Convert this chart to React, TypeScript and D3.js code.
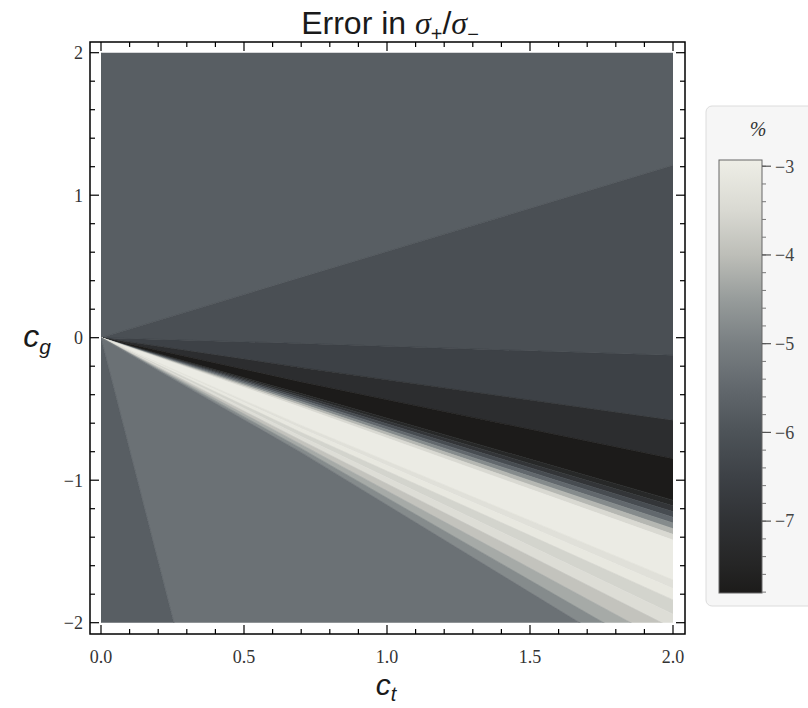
import React from "react";
import * as d3 from "d3";

// ---- axes -------------------------------------------------------------
const ctTicks = [0, 0.5, 1.0, 1.5, 2.0];
const cgTicks = [-2, -1, 0, 1, 2];
const legendTicks = [-3, -4, -5, -6, -7];
const legendRange = [-7.81, -2.93];

// ---- colour scheme (value in %, colour) ----------------------------------
const schemeValues = [-7.81, -7.5, -7.0, -6.5, -6.0, -5.5, -5.0, -4.5, -4.0, -3.5, -2.93];
const schemeColors = [
  "#1c1b1a", "#252525", "#303235", "#3d4146", "#4d5358", "#62686d",
  "#797f82", "#979c9b", "#bdbeb8", "#d9d9d2", "#eeeee6",
];

// ---- contour bands, from the top (c_g > 0) round to the bottom ------------
const bandValues = [
  -5.75, -6.1, -6.5, -7.2, -7.8,
  -7.4, -6.9, -6.2, -5.5, -4.8, -4.1, -3.5,
  -3.0,
  -3.3, -3.1, -3.6, -3.4, -3.9, -4.3, -4.8,
  -5.3, -5.75,
];
// slope c_g / c_t of the boundary under each band, near the origin and at c_t = 2
const boundarySlopeNear = [
  0.605, -0.058, -0.3, -0.445, -0.56,
  -0.58, -0.6, -0.62, -0.64, -0.66, -0.68, -0.7,
  -0.88,
  -0.91, -0.95, -0.99, -1.03, -1.07, -1.11, -1.15,
  -7.85,
];
const boundarySlopeFar = [
  0.605, -0.062, -0.29, -0.425, -0.57,
  -0.59, -0.61, -0.63, -0.65, -0.67, -0.69, -0.71,
  -0.85,
  -0.88, -0.92, -0.97, -1.02, -1.08, -1.14, -1.2,
  -7.85,
];
const slopeNearCt = 0.7;

export default function App() {
  const W = 808, H = 708;
  const x = d3.scaleLinear().domain([0, 2]).range([101, 673]);
  const y = d3.scaleLinear().domain([-2, 2]).range([622.7, 52.7]);
  const color = d3
    .scaleLinear<string>()
    .domain(schemeValues)
    .range(schemeColors)
    .interpolate(d3.interpolateRgb)
    .clamp(true);
  const ly = d3.scaleLinear().domain(legendRange).range([593, 160]);

  const frame = { l: 90, r: 685, t: 42, b: 634 };

  const boundary = (i: number): [number, number][] => {
    if (i < 0) return [[0, 0], [0, 3], [2.3, 3]];
    if (i >= boundarySlopeNear.length) return [[0, 0], [0, -30], [2.3, -30]];
    const n = boundarySlopeNear[i], f = boundarySlopeFar[i];
    return [[0, 0], [slopeNearCt, n * slopeNearCt], [2, f * 2], [2.3, f * 2.3]];
  };
  const line = d3
    .line<[number, number]>()
    .x((d) => x(d[0]))
    .y((d) => y(d[1]));

  const bands = bandValues.map((v, k) => {
    const upper = boundary(k - 1);
    const lower = boundary(k).slice().reverse();
    return { v, d: line(upper.concat(lower)) + "Z" };
  });

  const xMinor = x.ticks(20);
  const yMinor = y.ticks(20);
  const lMinor = d3.range(-7.8, -2.95, 0.2);
  const MAJ = 9, MIN = 5;

  const tickFont = "'Liberation Serif', 'DejaVu Serif', serif";
  const sansFont = "'Liberation Sans', Arial, sans-serif";

  return (
    <svg width={W} height={H} style={{ position: "absolute", left: 0, top: 0 }}>
      <rect width={W} height={H} fill="#ffffff" />
      <defs>
        <clipPath id="plotClip">
          <rect x={x(0)} y={y(2)} width={x(2) - x(0)} height={y(-2) - y(2)} />
        </clipPath>
        <linearGradient id="legendGrad" x1="0" y1="1" x2="0" y2="0">
          {schemeValues.map((v, i) => (
            <stop
              key={i}
              offset={(v - legendRange[0]) / (legendRange[1] - legendRange[0])}
              stopColor={schemeColors[i]}
            />
          ))}
        </linearGradient>
      </defs>

      {/* title */}
      <text x={390} y={34} textAnchor="middle" fontSize={32} fill="#1a1a1a" fontFamily={sansFont}>
        Error in{" "}
        <tspan fontFamily={tickFont} fontStyle="italic">σ</tspan>
        <tspan fontSize={20} dy={7}>+</tspan>
        <tspan dy={-7}>/</tspan>
        <tspan fontFamily={tickFont} fontStyle="italic">σ</tspan>
        <tspan fontSize={20} dy={7}>−</tspan>
      </text>

      {/* contour field */}
      <g clipPath="url(#plotClip)">
        {bands.map((b, i) => (
          <path key={i} d={b.d} fill={color(b.v)} stroke={color(b.v)} strokeWidth={0.6} />
        ))}
      </g>

      {/* frame */}
      <rect
        x={frame.l}
        y={frame.t}
        width={frame.r - frame.l}
        height={frame.b - frame.t}
        fill="none"
        stroke="#000"
        strokeWidth={1.5}
      />
      {xMinor.map((t, i) => {
        const major = ctTicks.some((m) => Math.abs(m - t) < 1e-9);
        const len = major ? MAJ : MIN;
        return (
          <g key={"x" + i} stroke="#000" strokeWidth={1.2}>
            <line x1={x(t)} x2={x(t)} y1={frame.b} y2={frame.b - len} />
            <line x1={x(t)} x2={x(t)} y1={frame.t} y2={frame.t + len} />
          </g>
        );
      })}
      {yMinor.map((t, i) => {
        const major = cgTicks.some((m) => Math.abs(m - t) < 1e-9);
        const len = major ? MAJ : MIN;
        return (
          <g key={"y" + i} stroke="#000" strokeWidth={1.2}>
            <line y1={y(t)} y2={y(t)} x1={frame.l} x2={frame.l + len} />
            <line y1={y(t)} y2={y(t)} x1={frame.r} x2={frame.r - len} />
          </g>
        );
      })}
      {ctTicks.map((t) => (
        <text key={"xl" + t} x={x(t)} y={663} textAnchor="middle" fontSize={18} fill="#333" fontFamily={tickFont}>
          {d3.format(".1f")(t)}
        </text>
      ))}
      {cgTicks.map((t) => (
        <text
          key={"yl" + t}
          x={83}
          y={y(t)}
          dy="0.35em"
          textAnchor="end"
          fontSize={18}
          fill="#333"
          fontFamily={tickFont}
        >
          {t < 0 ? "−" + Math.abs(t) : String(t)}
        </text>
      ))}

      {/* axis labels */}
      <text x={386} y={695} textAnchor="middle" fontSize={30} fill="#1a1a1a" fontFamily={sansFont} fontStyle="italic">
        c<tspan fontSize={20} dy={6}>t</tspan>
      </text>
      <text x={37} y={347} textAnchor="middle" fontSize={32} fill="#1a1a1a" fontFamily={sansFont} fontStyle="italic">
        c<tspan fontSize={21} dy={7}>g</tspan>
      </text>

      {/* colour legend */}
      <rect x={706} y={106} width={120} height={500} rx={6} fill="#f6f6f6" stroke="#dcdcdc" strokeWidth={1} />
      <text x={758} y={136} textAnchor="middle" fontSize={20} fill="#333" fontFamily={tickFont} fontStyle="italic">
        %
      </text>
      <rect
        x={719}
        y={ly(legendRange[1])}
        width={43}
        height={ly(legendRange[0]) - ly(legendRange[1])}
        fill="url(#legendGrad)"
        stroke="#666"
        strokeWidth={1}
      />
      {lMinor.map((t, i) => (
        <line key={"lm" + i} x1={762} x2={766} y1={ly(t)} y2={ly(t)} stroke="#777" strokeWidth={1} />
      ))}
      {legendTicks.map((t) => (
        <g key={"lt" + t}>
          <line x1={762} x2={771} y1={ly(t)} y2={ly(t)} stroke="#555" strokeWidth={1.2} />
          <text x={775} y={ly(t)} dy="0.35em" fontSize={18} fill="#444" fontFamily={tickFont}>
            {"−" + Math.abs(t)}
          </text>
        </g>
      ))}
    </svg>
  );
}
